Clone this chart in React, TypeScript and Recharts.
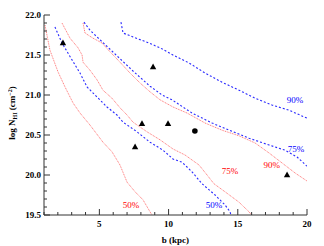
import { ComposedChart, Line, Scatter, XAxis, YAxis, ReferenceDot } from 'recharts'

// impact parameter b (kpc) and log N(HI)
const X_TICKS = [1, 2, 3, 4, 5, 6, 7, 8, 9, 10, 11, 12, 13, 14, 15, 16, 17, 18, 19, 20]
const Y_TICKS = [
  19.5, 19.6, 19.7, 19.8, 19.9, 20.0, 20.1, 20.2, 20.3, 20.4, 20.5, 20.6, 20.7,
  20.8, 20.9, 21.0, 21.1, 21.2, 21.3, 21.4, 21.5, 21.6, 21.7, 21.8, 21.9, 22.0,
]

const RED50_B = [1.07, 1.43, 2.01, 2.52, 3.1, 3.6, 4.32, 5.26, 5.91, 6.49, 7.0, 7.58, 8.15, 8.66, 8.8]
const RED50_N = [21.875, 21.56, 21.29, 21.1, 20.9, 20.775, 20.625, 20.41, 20.29, 20.125, 19.91, 19.79, 19.69, 19.54, 19.5]

const RED75_B = [2.3, 2.88, 3.46, 3.75, 3.82, 4.32, 4.83, 5.26, 5.91, 6.49, 7.0, 7.43, 8.44, 9.38, 10.32, 11.19, 12.2, 12.78, 13.28, 14.08, 15.09, 15.81, 16.0]
const RED75_N = [21.9, 21.71, 21.59, 21.5, 21.41, 21.31, 21.19, 21.06, 20.96, 20.84, 20.75, 20.66, 20.54, 20.44, 20.325, 20.25, 20.125, 20.0, 19.89, 19.79, 19.66, 19.54, 19.5]

const RED90_B = [3.82, 3.96, 4.54, 5.19, 5.77, 6.49, 7.21, 7.94, 8.66, 9.38, 10.32, 11.33, 12.63, 13.86, 15.09, 16.25, 17.26, 18.2, 19.14, 20]
const RED90_N = [21.9, 21.775, 21.71, 21.65, 21.54, 21.41, 21.275, 21.15, 21.04, 20.94, 20.85, 20.775, 20.65, 20.56, 20.49, 20.4, 20.275, 20.15, 20.025, 19.925]

const BLUE50_B = [1.79, 2.3, 3.02, 3.6, 4.11, 4.83, 5.55, 6.27, 6.71, 7.72, 8.66, 9.6, 10.32, 10.97, 11.69, 12.42, 13.36, 14.08, 14.44, 14.5]
const BLUE50_N = [21.85, 21.65, 21.44, 21.275, 21.1, 20.975, 20.85, 20.75, 20.66, 20.54, 20.41, 20.31, 20.2, 20.16, 20.04, 19.89, 19.75, 19.625, 19.54, 19.5]

const BLUE75_B = [3.89, 4.32, 5.05, 6.27, 7.43, 8.66, 9.53, 10.25, 11.69, 13.14, 14.37, 15.81, 17.26, 18.41, 19.28, 20]
const BLUE75_N = [21.91, 21.81, 21.69, 21.49, 21.3, 21.11, 21.0, 20.94, 20.775, 20.65, 20.56, 20.46, 20.375, 20.31, 20.225, 20.11]

const BLUE90_B = [6.56, 6.71, 7.43, 8.44, 9.38, 10.32, 11.48, 12.63, 13.86, 15.09, 16.25, 17.47, 18.7, 20]
const BLUE90_N = [21.91, 21.775, 21.725, 21.66, 21.59, 21.5, 21.4, 21.275, 21.16, 21.06, 20.96, 20.875, 20.81, 20.71]

const TRI_B = [2.37, 8.88, 8.08, 9.96, 7.58, 18.56]
const TRI_N = [21.65, 21.35, 20.64, 20.64, 20.35, 20.0]
const DOT_B = [11.9]
const DOT_N = [20.55]

// contour labels
const RED_LABELS = ['50%', '75%', '90%']
const RED_LABEL_B = [7.28, 14.44, 17.45]
const RED_LABEL_N = [19.625, 20.05, 20.125]
const BLUE_LABELS = ['50%', '75%', '90%']
const BLUE_LABEL_B = [13.28, 19.21, 19.14]
const BLUE_LABEL_N = [19.625, 20.325, 20.94]

const zip = (b: number[], n: number[]) => b.map((v, i) => ({ b: v, n: n[i] }))

const AXIS = '#333'
const RED = '#ff4a4a'
const BLUE = '#2a2aff'
const FONT = '"Liberation Serif", "DejaVu Serif", serif'

const isMajorX = (v: number) => v % 5 === 0
const isMajorY = (v: number) => Math.abs(v * 2 - Math.round(v * 2)) < 1e-6

function BottomTick({ x, y, payload }: any) {
  const major = isMajorX(payload.value)
  return (
    <g>
      <line x1={x} x2={x} y1={y} y2={y - (major ? 6 : 3)} stroke={AXIS} />
      {major && (
        <text x={x} y={y + 12} textAnchor="middle" fontSize={9} fontWeight="bold" fontFamily={FONT} fill="#000">
          {payload.value}
        </text>
      )}
    </g>
  )
}

function TopTick({ x, y, payload }: any) {
  const major = isMajorX(payload.value)
  return <line x1={x} x2={x} y1={y} y2={y + (major ? 6 : 3)} stroke={AXIS} />
}

function LeftTick({ x, y, payload }: any) {
  const major = isMajorY(payload.value)
  return (
    <g>
      <line x1={x} x2={x + (major ? 6 : 3)} y1={y} y2={y} stroke={AXIS} />
      {major && (
        <text x={x - 3} y={y + 3} textAnchor="end" fontSize={9} fontWeight="bold" fontFamily={FONT} fill="#000">
          {payload.value.toFixed(1)}
        </text>
      )}
    </g>
  )
}

function RightTick({ x, y, payload }: any) {
  const major = isMajorY(payload.value)
  return <line x1={x} x2={x - (major ? 6 : 3)} y1={y} y2={y} stroke={AXIS} />
}

const triangle = (p: any) => (
  <polygon points={`${p.cx},${p.cy - 3.5} ${p.cx - 3.2},${p.cy + 2.3} ${p.cx + 3.2},${p.cy + 2.3}`} fill="#000" />
)
const circle = (p: any) => <circle cx={p.cx} cy={p.cy} r={2.8} fill="#000" />

const contours = [
  { key: 'r50', b: RED50_B, n: RED50_N, color: RED, dash: '1 0.8', w: 0.75 },
  { key: 'r75', b: RED75_B, n: RED75_N, color: RED, dash: '1 0.8', w: 0.75 },
  { key: 'r90', b: RED90_B, n: RED90_N, color: RED, dash: '1 0.8', w: 0.75 },
  { key: 'b50', b: BLUE50_B, n: BLUE50_N, color: BLUE, dash: '2 2', w: 1.1 },
  { key: 'b75', b: BLUE75_B, n: BLUE75_N, color: BLUE, dash: '2 2', w: 1.1 },
  { key: 'b90', b: BLUE90_B, n: BLUE90_N, color: BLUE, dash: '2 2', w: 1.1 },
]

const labels = [
  ...RED_LABELS.map((t, i) => ({ t, b: RED_LABEL_B[i], n: RED_LABEL_N[i], color: '#f00' })),
  ...BLUE_LABELS.map((t, i) => ({ t, b: BLUE_LABEL_B[i], n: BLUE_LABEL_N[i], color: '#00f' })),
]

export default function App() {
  return (
    <ComposedChart width={316} height={238} margin={{ top: 7, right: 17, left: 0, bottom: 0 }}>
      <XAxis
        xAxisId="b" dataKey="b" type="number" domain={[1, 20]} allowDataOverflow
        ticks={X_TICKS} interval={0} tick={BottomTick} tickLine={false} tickSize={0} tickMargin={0}
        height={31} axisLine={{ stroke: AXIS }}
        label={{
          content: ({ viewBox }: any) => (
            <text x={viewBox.x + viewBox.width / 2} y={viewBox.y + 28} textAnchor="middle"
              fontSize={9} fontWeight="bold" fontFamily={FONT} fill="#000">b (kpc)</text>
          ),
        }}
      />
      <XAxis
        xAxisId="top" orientation="top" type="number" domain={[1, 20]} allowDataOverflow
        ticks={X_TICKS} interval={0} tick={TopTick} tickLine={false} tickSize={0} tickMargin={0}
        height={0} axisLine={{ stroke: AXIS }}
      />
      <YAxis
        yAxisId="n" type="number" domain={[19.5, 22]} allowDataOverflow
        ticks={Y_TICKS} interval={0} tick={LeftTick} tickLine={false} tickSize={0} tickMargin={0}
        width={36} axisLine={{ stroke: AXIS }}
        label={{
          content: ({ viewBox }: any) => {
            const cx = 7
            const cy = viewBox.y + viewBox.height / 2 - 2
            return (
              <text transform={`translate(${cx},${cy}) rotate(-90)`} textAnchor="middle"
                fontSize={9} fontWeight="bold" fontFamily={FONT} fill="#000">
                log N<tspan fontSize={6} dy={2}>HI</tspan>
                <tspan dy={-2}> (cm</tspan>
                <tspan fontSize={6} dy={-3}>−2</tspan>
                <tspan dy={3}>)</tspan>
              </text>
            )
          },
        }}
      />
      <YAxis
        yAxisId="r" orientation="right" type="number" domain={[19.5, 22]} allowDataOverflow
        ticks={Y_TICKS} interval={0} tick={RightTick} tickLine={false} tickSize={0} tickMargin={0}
        width={0} axisLine={{ stroke: AXIS }}
      />
      {contours.map(c => (
        <Line
          key={c.key} data={zip(c.b, c.n)} dataKey="n" xAxisId="b" yAxisId="n"
          type="linear" stroke={c.color} strokeWidth={c.w} strokeDasharray={c.dash}
          dot={false} activeDot={false} isAnimationActive={false}
        />
      ))}
      <Scatter data={zip(TRI_B, TRI_N)} dataKey="n" xAxisId="b" yAxisId="n" shape={triangle} isAnimationActive={false} />
      <Scatter data={zip(DOT_B, DOT_N)} dataKey="n" xAxisId="b" yAxisId="n" shape={circle} isAnimationActive={false} />
      {labels.map((l, i) => (
        <ReferenceDot
          key={i} x={l.b} y={l.n} r={0} xAxisId="b" yAxisId="n" stroke="none" fill="none"
          label={{ value: l.t, position: 'center', fill: l.color, fontSize: 9, fontFamily: FONT }}
        />
      ))}
    </ComposedChart>
  )
}
